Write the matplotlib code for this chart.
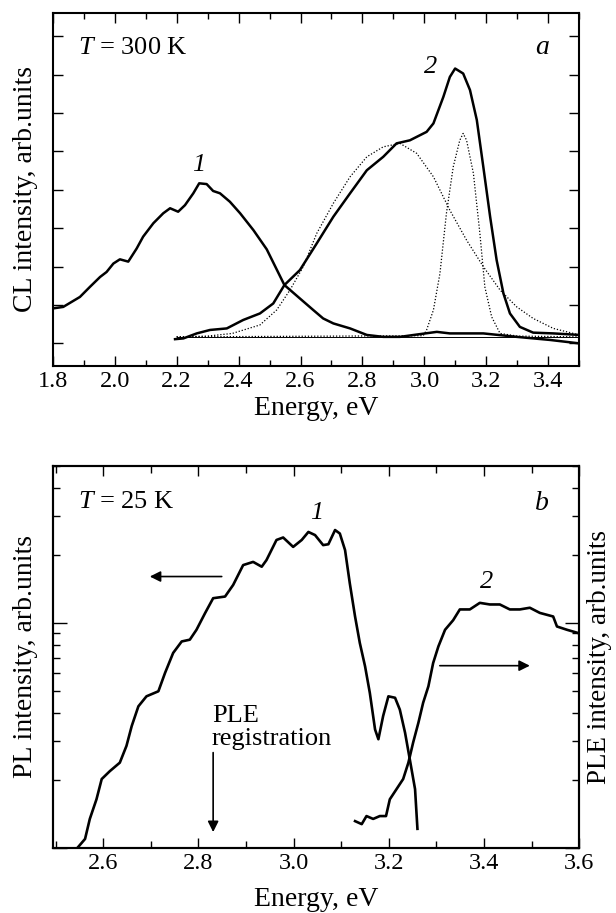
import numpy as np
import matplotlib
matplotlib.use("Agg")
import matplotlib.pyplot as plt
from matplotlib.ticker import MultipleLocator, NullFormatter, LogLocator

plt.rcParams['font.family'] = ['Liberation Serif', 'DejaVu Serif']
plt.rcParams['mathtext.fontset'] = 'custom'
plt.rcParams['mathtext.rm'] = 'Liberation Serif'
plt.rcParams['mathtext.it'] = 'Liberation Serif:italic'

# panel a: CL spectra at 300 K (arb. units)
cl1_x = [1.80, 1.834, 1.861, 1.888, 1.92, 1.953, 1.974, 1.996, 2.017, 2.044, 2.071, 2.092,
         2.125, 2.157, 2.179, 2.205, 2.227, 2.254, 2.273, 2.297, 2.318, 2.34, 2.372, 2.405,
         2.448, 2.491, 2.548, 2.598, 2.641, 2.673, 2.706, 2.76, 2.814, 2.867, 2.921, 2.975,
         3.04, 3.082, 3.19, 3.298, 3.405, 3.50]
cl1_y = [0.91, 0.95, 1.08, 1.21, 1.47, 1.73, 1.86, 2.08, 2.19, 2.13, 2.47, 2.78,
         3.13, 3.39, 3.52, 3.43, 3.60, 3.91, 4.17, 4.15, 3.97, 3.91, 3.69, 3.39,
         2.95, 2.45, 1.52, 1.17, 0.87, 0.65, 0.52, 0.39, 0.22, 0.17, 0.17, 0.23,
         0.30, 0.26, 0.26, 0.17, 0.09, 0.0]
cl2_x = [2.195, 2.222, 2.265, 2.308, 2.362, 2.415, 2.469, 2.512, 2.548, 2.598, 2.652, 2.706,
         2.76, 2.814, 2.867, 2.91, 2.953, 3.007, 3.029, 3.061, 3.082, 3.099, 3.125, 3.147,
         3.169, 3.19, 3.212, 3.233, 3.255, 3.276, 3.308, 3.351, 3.416, 3.50]
cl2_y = [0.11, 0.13, 0.26, 0.35, 0.39, 0.61, 0.78, 1.04, 1.52, 1.91, 2.6, 3.30,
         3.91, 4.51, 4.86, 5.21, 5.29, 5.51, 5.73, 6.42, 6.94, 7.16, 7.03, 6.6,
         5.82, 4.6, 3.30, 2.17, 1.30, 0.78, 0.43, 0.28, 0.26, 0.22]
# fitted components (dotted)
fit1_x = [2.20, 2.30, 2.38, 2.469, 2.523, 2.566, 2.609, 2.652, 2.706, 2.76, 2.814, 2.867,
          2.921, 2.975, 3.029, 3.082, 3.136, 3.19, 3.244, 3.298, 3.351, 3.416, 3.50]
fit1_y = [0.17, 0.19, 0.26, 0.48, 0.87, 1.39, 2.0, 2.86, 3.65, 4.34, 4.86, 5.12,
          5.21, 4.95, 4.34, 3.47, 2.69, 2.0, 1.39, 0.95, 0.65, 0.39, 0.22]
fit2_x = [2.20, 2.996, 3.007, 3.029, 3.050, 3.071, 3.093, 3.114, 3.125, 3.136, 3.158, 3.179,
          3.195, 3.217, 3.244, 3.30, 3.50]
fit2_y = [0.17, 0.20, 0.35, 0.87, 1.82, 3.39, 4.6, 5.29, 5.47, 5.29, 4.43, 2.86,
          1.47, 0.69, 0.26, 0.19, 0.17]
base_x = [2.20, 3.50]
base_y = [0.17, 0.17]

# panel b: PL and PLE at 25 K (log scale)
pl_x = [2.547, 2.562, 2.572, 2.586, 2.597, 2.614, 2.635, 2.649, 2.660, 2.674, 2.691, 2.716,
        2.730, 2.747, 2.765, 2.782, 2.796, 2.814, 2.831, 2.856, 2.873, 2.894, 2.915, 2.933,
        2.943, 2.964, 2.978, 2.999, 3.017, 3.031, 3.045, 3.062, 3.073, 3.087, 3.097, 3.108,
        3.118, 3.129, 3.139, 3.150, 3.160, 3.171, 3.178, 3.188, 3.199, 3.213, 3.223, 3.234,
        3.244, 3.255, 3.260]
pl_y = [1.01, 1.10, 1.35, 1.65, 2.03, 2.20, 2.40, 2.85, 3.49, 4.27, 4.73, 4.98,
        6.01, 7.37, 8.29, 8.44, 9.34, 11.07, 12.9, 13.12, 14.77, 18.1, 18.7, 17.8,
        19.05, 23.4, 24.0, 21.8, 23.4, 25.4, 24.6, 22.2, 22.4, 25.9, 25.0, 21.1,
        15.0, 10.7, 8.16, 6.43, 4.90, 3.37, 3.05, 3.87, 4.73, 4.66, 4.13, 3.26,
        2.48, 1.83, 1.22]
ple_x = [3.129, 3.143, 3.153, 3.167, 3.181, 3.194, 3.202, 3.216, 3.230, 3.241, 3.251, 3.262,
         3.272, 3.283, 3.293, 3.304, 3.318, 3.335, 3.349, 3.370, 3.391, 3.412, 3.433, 3.454,
         3.475, 3.496, 3.517, 3.545, 3.553, 3.574, 3.598]
ple_y = [1.32, 1.28, 1.39, 1.35, 1.39, 1.39, 1.65, 1.83, 2.03, 2.40, 2.95, 3.61,
         4.43, 5.24, 6.65, 7.88, 9.34, 10.3, 11.5, 11.5, 12.3, 12.1, 12.1, 11.5,
         11.5, 11.7, 11.1, 10.7, 9.66, 9.34, 9.03]

fig = plt.figure(figsize=(6.16, 9.13), dpi=100)
ax1 = fig.add_axes([0.0855, 0.5995, 0.855, 0.386])
ax2 = fig.add_axes([0.0855, 0.0709, 0.855, 0.419])

# ---- panel a
ax1.plot(cl1_x, cl1_y, color='black', linewidth=1.8)
ax1.plot(cl2_x, cl2_y, color='black', linewidth=1.8)
ax1.plot(base_x, base_y, color='black', linewidth=0.7)
ax1.plot(fit1_x, fit1_y, color='black', linewidth=0.9, linestyle=(0, (1, 1.5)))
ax1.plot(fit2_x, fit2_y, color='black', linewidth=0.9, linestyle=(0, (1, 1.5)))
ax1.set_xlim(1.8, 3.5)
ax1.set_ylim(-0.58, 8.6)
ax1.xaxis.set_major_locator(MultipleLocator(0.2))
ax1.xaxis.set_minor_locator(MultipleLocator(0.1))
ax1.set_yticks(np.arange(0, 9))
ax1.set_yticklabels([])
ax1.tick_params(which='both', direction='in', top=True, right=True, labelsize=17.5, width=1.0)
ax1.tick_params(which='major', length=7)
ax1.tick_params(which='minor', length=4)
ax1.set_xlabel("Energy, eV", fontsize=20, labelpad=3)
ax1.set_ylabel("CL intensity, arb.units", fontsize=20, labelpad=7)
ax1.text(1.882, 7.69, r"$T$ = 300 K", fontsize=19, ha='left', va='center')
ax1.text(2.27, 4.64, "1", fontsize=19, style='italic', ha='center', va='center')
ax1.text(3.02, 7.2, "2", fontsize=19, style='italic', ha='center', va='center')
ax1.text(3.38, 7.72, "a", fontsize=20, style='italic', ha='center', va='center')
for s in ax1.spines.values():
    s.set_linewidth(1.5)

# ---- panel b
ax2.plot(pl_x, pl_y, color='black', linewidth=1.9)
ax2.set_yscale('log')
ax2.set_xlim(2.494, 3.6)
ax2.set_ylim(1, 50)
ax3 = ax2.twinx()
ax3.plot(ple_x, ple_y, color='black', linewidth=1.9)
ax3.set_yscale('log')
ax3.set_ylim(1, 50)
ax2.xaxis.set_major_locator(MultipleLocator(0.2))
ax2.xaxis.set_minor_locator(MultipleLocator(0.1))
for a in (ax2, ax3):
    a.yaxis.set_major_locator(LogLocator(base=10, numticks=5))
    a.yaxis.set_minor_locator(LogLocator(base=10, subs=np.arange(2, 10), numticks=10))
    a.yaxis.set_major_formatter(NullFormatter())
    a.yaxis.set_minor_formatter(NullFormatter())
    a.tick_params(which='both', direction='in', width=1.0)
    a.tick_params(which='major', length=10)
    a.tick_params(which='minor', length=5)
    for s in a.spines.values():
        s.set_linewidth(1.5)
ax2.tick_params(axis='x', which='both', top=True, labelsize=17.5)
ax2.tick_params(axis='x', which='major', length=7)
ax2.tick_params(axis='x', which='minor', length=5)
ax2.set_xlabel("Energy, eV", fontsize=20, labelpad=9)
ax2.set_ylabel("PL intensity, arb.units", fontsize=20, labelpad=7)
ax3.set_ylabel("PLE intensity, arb.units", fontsize=19.5, labelpad=2)

ax2.text(2.547, 34.5, r"$T$ = 25 K", fontsize=19, ha='left', va='center')
ax2.text(3.521, 34.0, "b", fontsize=20, style='italic', ha='center', va='center')
ax2.text(3.048, 30.7, "1", fontsize=19, style='italic', ha='center', va='center')
ax2.text(3.405, 15.3, "2", fontsize=19, style='italic', ha='center', va='center')
ax2.text(2.828, 3.45, "PLE\nregistration", fontsize=19, ha='left', va='center', linespacing=1.05)
arrow = dict(arrowstyle='-|>', color='black', lw=1.2, mutation_scale=16, shrinkA=0, shrinkB=0)
ax2.annotate("", xy=(2.698, 16.1), xytext=(2.849, 16.1), arrowprops=arrow)
ax2.annotate("", xy=(3.496, 6.47), xytext=(3.307, 6.47), arrowprops=arrow)
ax2.annotate("", xy=(2.831, 1.18), xytext=(2.831, 2.66), arrowprops=arrow)

fig.savefig("out.png", dpi=100)
